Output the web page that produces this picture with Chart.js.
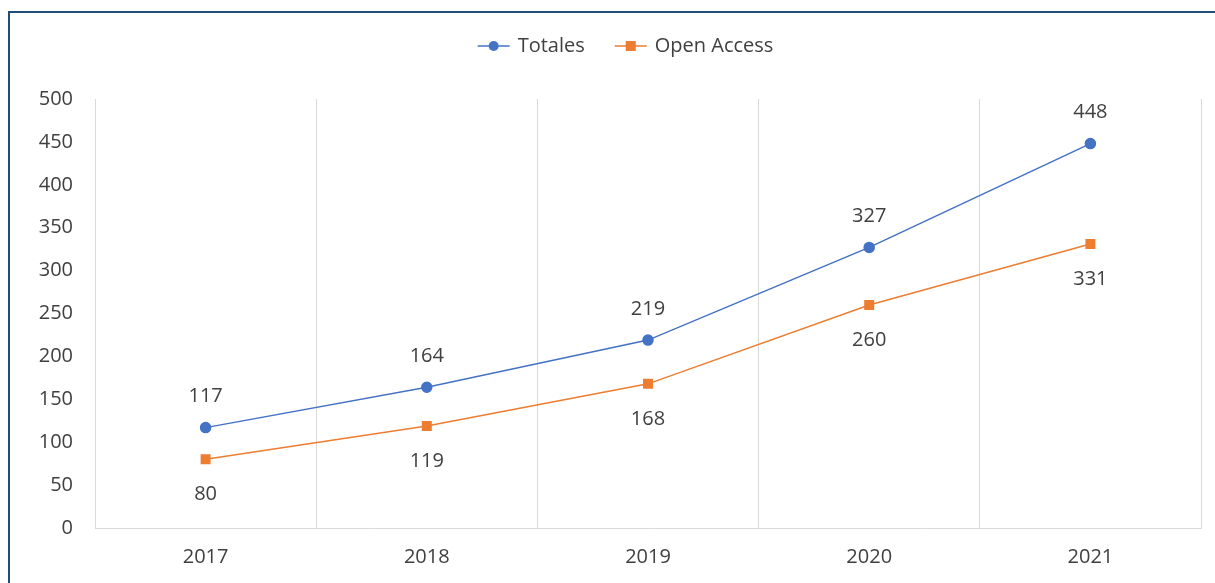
<!DOCTYPE html>
<html>
<head>
<meta charset="utf-8">
<script src="https://cdn.jsdelivr.net/npm/chart.js@4/dist/chart.umd.min.js"></script>
<style>
    html, body { margin: 0; padding: 0; background: #fff; overflow: hidden; }
    #wrap { position: relative; width: 1215px; height: 583px; }
    #frame { position: absolute; left: 8px; top: 11px; width: 1300px; height: 700px;
             border-left: 2px solid #1f4e79; border-top: 2px solid #1f4e79; }
    canvas { position: absolute; left: 0; top: 0; }
</style>
</head>
<body>
<div id="wrap">
    <div id="frame"></div>
    <canvas id="chart" width="1215" height="583"></canvas>
</div>
<script>
const years = ['2017', '2018', '2019', '2020', '2021'];
const totales = [117, 164, 219, 327, 448];
const openAccess = [80, 119, 168, 260, 331];
const yTicks = [0, 50, 100, 150, 200, 250, 300, 350, 400, 450, 500];

const FONT = "'Open Sans', sans-serif";
const TEXT = '#404040';
const BLUE = '#4472C4';
const ORANGE = '#ED7D31';

// labels above / below the points
const pointLabels = {
    id: 'pointLabels',
    afterDatasetsDraw(chart) {
        const ctx = chart.ctx;
        ctx.save();
        ctx.font = '20px ' + FONT;
        ctx.fillStyle = TEXT;
        ctx.textAlign = 'center';
        ctx.textBaseline = 'middle';
        chart.data.datasets.forEach((ds, i) => {
            const meta = chart.getDatasetMeta(i);
            const shift = i === 0 ? -31 : 35;
            meta.data.forEach((pt, j) => {
                ctx.fillText(String(ds.data[j]), pt.x, pt.y + shift);
            });
        });
        ctx.restore();
    }
};

// Excel-like legend: line with marker, then text
const lineLegend = {
    id: 'lineLegend',
    afterDraw(chart) {
        const ctx = chart.ctx;
        ctx.save();
        ctx.font = '20px ' + FONT;
        ctx.textBaseline = 'middle';
        const y = 46;
        const seg = 32, gap = 8, between = 30;
        const items = chart.data.datasets.map(ds => ({
            ds, w: seg + gap + ctx.measureText(ds.label).width
        }));
        const total = items.reduce((s, it) => s + it.w, 0) + between * (items.length - 1);
        let x = (chart.width - total) / 2 + 18;
        items.forEach(it => {
            const c = it.ds.borderColor;
            ctx.strokeStyle = c;
            ctx.lineWidth = 1.5;
            ctx.beginPath();
            ctx.moveTo(x, y);
            ctx.lineTo(x + seg, y);
            ctx.stroke();
            ctx.fillStyle = c;
            if (it.ds.pointStyle === 'rect') {
                ctx.fillRect(x + seg / 2 - 5, y - 5, 10, 10);
            } else {
                ctx.beginPath();
                ctx.arc(x + seg / 2, y, 5, 0, Math.PI * 2);
                ctx.fill();
            }
            ctx.fillStyle = TEXT;
            ctx.textAlign = 'left';
            ctx.fillText(it.ds.label, x + seg + gap, y);
            x += it.w + between;
        });
        ctx.restore();
    }
};

new Chart(document.getElementById('chart'), {
    type: 'line',
    data: {
        labels: years,
        datasets: [{
            label: 'Totales',
            data: totales,
            borderColor: BLUE,
            backgroundColor: BLUE,
            borderWidth: 1.5,
            pointStyle: 'circle',
            pointRadius: 5,
            pointHoverRadius: 5,
            tension: 0
        }, {
            label: 'Open Access',
            data: openAccess,
            borderColor: ORANGE,
            backgroundColor: ORANGE,
            borderWidth: 1.5,
            pointStyle: 'rect',
            pointRadius: 6,
            pointHoverRadius: 6,
            tension: 0
        }]
    },
    options: {
        responsive: false,
        animation: false,
        layout: { padding: { left: 0, right: 14, top: 99, bottom: 0 } },
        plugins: {
            legend: { display: false },
            tooltip: { enabled: false }
        },
        scales: {
            x: {
                offset: true,
                grid: { display: true, offset: true, color: '#d9d9d9', lineWidth: 1, drawTicks: false },
                border: { display: true, color: '#d9d9d9' },
                ticks: { color: TEXT, font: { family: FONT, size: 20 }, padding: 17 },
                afterFit: (scale) => { scale.height = 55; }
            },
            y: {
                min: 0,
                max: 500,
                afterBuildTicks: (scale) => { scale.ticks = yTicks.map(v => ({ value: v })); },
                grid: { display: false, drawTicks: false },
                border: { display: false },
                ticks: { color: TEXT, font: { family: FONT, size: 20 }, padding: 22 },
                afterFit: (scale) => { scale.width = 95; }
            }
        }
    },
    plugins: [pointLabels, lineLegend]
});
</script>
</body>
</html>
